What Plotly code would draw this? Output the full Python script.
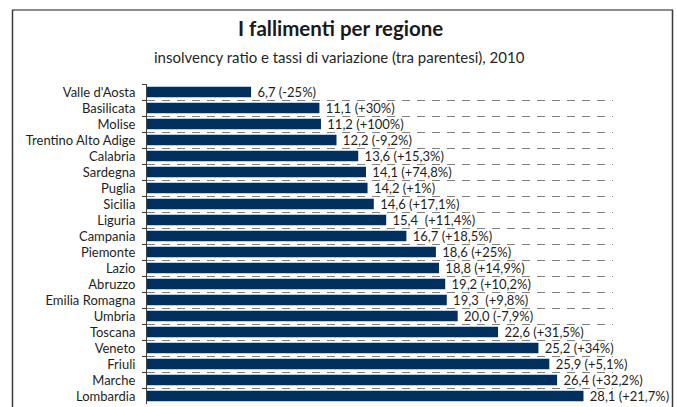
import plotly.graph_objects as go

# Regional insolvency ratio (2010) and year-on-year change, in %
regions = [
    "Valle d'Aosta", "Basilicata", "Molise", "Trentino Alto Adige", "Calabria",
    "Sardegna", "Puglia", "Sicilia", "Liguria", "Campania", "Piemonte", "Lazio",
    "Abruzzo", "Emilia Romagna", "Umbria", "Toscana", "Veneto", "Friuli",
    "Marche", "Lombardia",
]
ratio = [6.7, 11.1, 11.2, 12.2, 13.6, 14.1, 14.2, 14.6, 15.4, 16.7,
         18.6, 18.8, 19.2, 19.3, 20.0, 22.6, 25.2, 25.9, 26.4, 28.1]
change = [-25, 30, 100, -9.2, 15.3, 74.8, 1, 17.1, 11.4, 18.5,
          25, 14.9, 10.2, 9.8, -7.9, 31.5, 34, 5.1, 32.2, 21.7]
wide_gap = {"Liguria", "Emilia Romagna"}


def it_num(v, decimals):
    return f"{v:.{decimals}f}".replace(".", ",")


def fmt_change(c):
    d = 0 if float(c).is_integer() else 1
    sign = "+" if c > 0 else "-"
    return f"({sign}{it_num(abs(c), d)}%)"


labels = []
for r, v, c in zip(regions, ratio, change):
    sep = "\u00a0\u00a0" if r in wide_gap else " "
    labels.append("\u00a0" + it_num(v, 1) + sep + fmt_change(c))

FONT = "Lato"
TXT = "#1e1e1e"

fig = go.Figure(
    go.Bar(
        x=ratio,
        y=regions,
        orientation="h",
        marker=dict(color="#01305f", line=dict(width=0)),
        text=labels,
        textposition="outside",
        constraintext="none",
        cliponaxis=False,
        textfont=dict(family=FONT, size=13, color=TXT),
        hoverinfo="skip",
    )
)

W, H = 677, 407
L, R, T, B = 147, 64, 84, 3
pw, ph = W - L - R, H - T - B


def px_x(x):
    return (x - L) / pw


def px_y(y):
    return (H - B - y) / ph


fig.update_layout(
    width=W,
    height=H,
    margin=dict(l=L, r=R, t=T, b=B, pad=0),
    paper_bgcolor="white",
    plot_bgcolor="white",
    showlegend=False,
    bargap=0.34,
    font=dict(family=FONT, size=13, color=TXT),
    xaxis=dict(range=[0, 30], visible=False, fixedrange=True),
    yaxis=dict(
        autorange="reversed",
        tickson="boundaries",
        ticks="outside",
        ticklen=4,
        tickwidth=1,
        tickcolor="#404040",
        showline=True,
        linecolor="#404040",
        linewidth=1,
        showgrid=True,
        gridcolor="#808080",
        gridwidth=1,
        griddash="8px,7px",
        ticklabelstandoff=8,
        tickfont=dict(family=FONT, size=13, color=TXT),
        fixedrange=True,
    ),
    annotations=[
        dict(
            text="<b>I fallimenti per regione</b>",
            x=px_x(340), y=px_y(28), xref="paper", yref="paper",
            xanchor="center", yanchor="middle", showarrow=False,
            font=dict(family=FONT, size=20.5, color="#1a1a1a"),
        ),
        dict(
            text="insolvency ratio e tassi di variazione (tra parentesi), 2010",
            x=px_x(339), y=px_y(57), xref="paper", yref="paper",
            xanchor="center", yanchor="middle", showarrow=False,
            font=dict(family=FONT, size=15, color="#262626"),
        ),
    ],
    shapes=[
        # frame around the chart
        dict(type="line", xref="paper", yref="paper",
             x0=px_x(12), x1=px_x(673), y0=px_y(10), y1=px_y(10),
             line=dict(color="#8c8c8c", width=2)),
        dict(type="line", xref="paper", yref="paper",
             x0=px_x(12.5), x1=px_x(12.5), y0=px_y(10), y1=px_y(412),
             line=dict(color="#3a3a3a", width=1.5)),
        dict(type="line", xref="paper", yref="paper",
             x0=px_x(672.5), x1=px_x(672.5), y0=px_y(10), y1=px_y(412),
             line=dict(color="#3a3a3a", width=1.5)),
    ],
)

fig.write_html("out.html")
